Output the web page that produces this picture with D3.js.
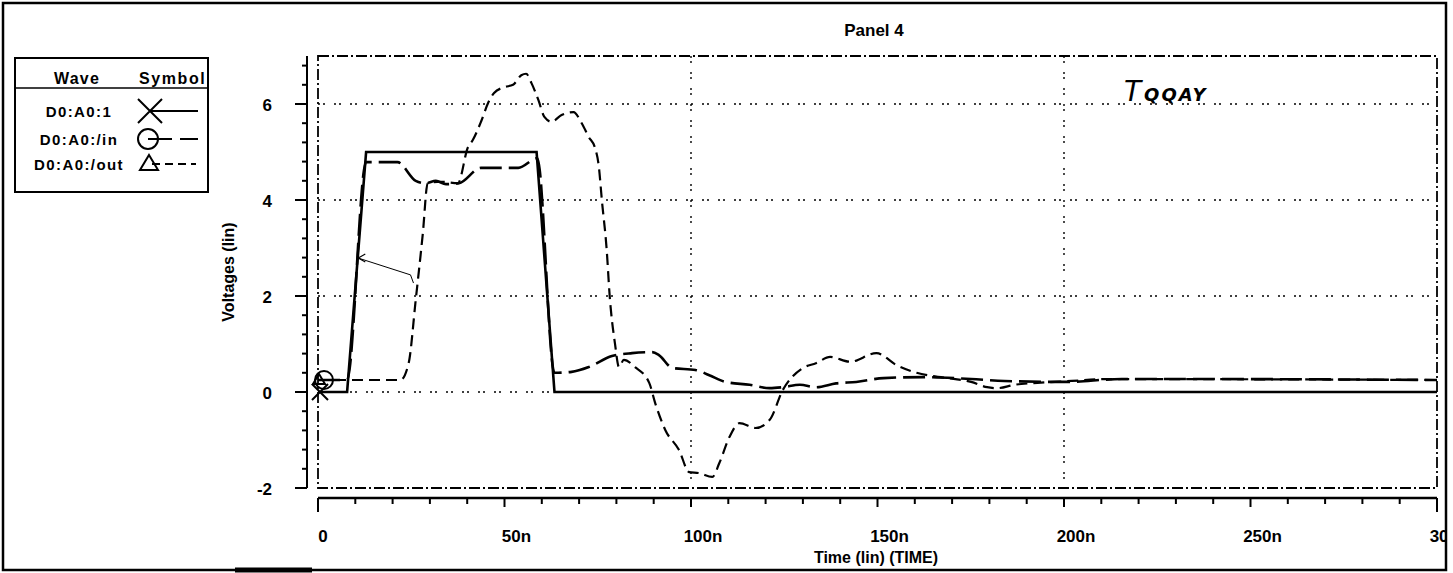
<!DOCTYPE html>
<html>
<head>
<meta charset="utf-8">
<script src="https://cdn.jsdelivr.net/npm/d3@7"></script>
<style>
  body { margin: 0; background: #fff; }
  svg { display: block; font-family: "Liberation Sans", Arial, sans-serif; }
  .lbl { font-weight: bold; fill: #000; }
</style>
</head>
<body>
<svg width="1453" height="573"></svg>
<script>
"use strict";

// waveforms, time in ns, voltage in V
var timeWave1 = [0, 7.8, 12.9, 58.6, 63.4, 300];
var voltWave1 = [0, 0, 5, 5, 0, 0];

var timeIn = [0, 7.8, 12.9, 21.3, 26.2, 28.9, 31.6, 34.3, 37.8, 43.7, 53.7, 58.8, 63.4, 68.0, 72.6,
  78.8, 84.2, 89.6, 91.4, 95.0, 101.2, 104.9, 109.3, 115.7, 121.1, 124.6, 129.2, 133.5, 138.9,
  144.3, 151.6, 162.4, 175.1, 184.0, 200.2, 215.5, 236.0, 300];
var voltIn = [0.25, 0.25, 4.79, 4.79, 4.4, 4.35, 4.4, 4.33, 4.35, 4.67, 4.67, 4.87, 0.4, 0.42, 0.52,
  0.75, 0.81, 0.83, 0.77, 0.5, 0.46, 0.35, 0.21, 0.15, 0.08, 0.1, 0.15, 0.1, 0.18,
  0.21, 0.29, 0.31, 0.27, 0.23, 0.21, 0.27, 0.27, 0.25];

var timeOut = [0, 22.1, 24.3, 26.2, 28.1, 29.4, 32.9, 37.5, 40.2, 41.5, 43.7, 45.6, 47.2, 49.9, 52.3,
  54.5, 55.8, 57.2, 59.1, 60.7, 62.6, 65.3, 68.5, 70.7, 72.6, 74.2, 75.3, 76.1, 77.4, 78.2, 79.6,
  80.7, 82.0, 85.0, 88.8, 90.4, 93.1, 96.8, 99.5, 102.2, 105.7, 107.6, 110.3, 113.0, 117.3, 121.1,
  124.6, 130.0, 133.5, 137.3, 142.7, 149.7, 155.1, 160.5, 167.0, 175.1, 179.4, 182.1, 186.7, 192.9,
  202.1, 211.0, 300];
var voltOut = [0.25, 0.25, 0.6, 1.92, 3.3, 4.35, 4.38, 4.35, 5.1, 5.25, 5.63, 6.02, 6.23, 6.35, 6.4,
  6.6, 6.63, 6.44, 6.08, 5.73, 5.63, 5.77, 5.83, 5.6, 5.31, 5.1, 4.69, 4.0, 2.96, 2.0, 1.02,
  0.52, 0.67, 0.52, 0.19, -0.23, -0.79, -1.21, -1.67, -1.69, -1.77, -1.48, -0.94, -0.65, -0.75, -0.58,
  0.04, 0.5, 0.6, 0.73, 0.63, 0.81, 0.56, 0.4, 0.31, 0.21, 0.1, 0.08, 0.15, 0.19,
  0.23, 0.27, 0.25];

// pencil mark on the rising edge
var noteTime = [10.8, 24.8, 25.6];
var noteVolt = [2.79, 2.44, 2.27];

var xMajor = [0, 50, 100, 150, 200, 250, 300];
var xLabels = ["0", "50n", "100n", "150n", "200n", "250n", "300n"];
var xGrid = [100, 200];
var yMajor = [-2, 0, 2, 4, 6];
var yGrid = [0, 2, 4, 6];
var waveNames = ["D0:A0:1", "D0:A0:/in", "D0:A0:/out"];

var svg = d3.select("svg");

var x = d3.scaleLinear().domain([0, 300]).range([318, 1437]);
var y = d3.scaleLinear().domain([-2, 7]).range([488, 56]);

var frameDash = "11,3,2,3";
var gridDash = "2,3,2,9";
var frameW = 1443;

// outer frame
svg.append("rect").attr("x", 3).attr("y", 3).attr("width", frameW).attr("height", 567)
  .attr("fill", "none").attr("stroke", "#000").attr("stroke-width", 2.5);
svg.append("line").attr("x1", 235).attr("x2", 312).attr("y1", 570).attr("y2", 570)
  .attr("stroke", "#000").attr("stroke-width", 5);

svg.append("text").attr("class", "lbl").attr("x", 874).attr("y", 36)
  .attr("text-anchor", "middle").attr("font-size", 17).text("Panel 4");

// grid
var grid = svg.append("g").attr("stroke", "#000").attr("stroke-width", 1.4).attr("stroke-dasharray", gridDash);
grid.selectAll(".gy").data(yGrid).enter().append("line")
  .attr("x1", x(0)).attr("x2", x(300))
  .attr("y1", function (d) { return y(d); }).attr("y2", function (d) { return y(d); });
grid.selectAll(".gx").data(xGrid).enter().append("line")
  .attr("y1", y(7)).attr("y2", y(-2))
  .attr("x1", function (d) { return x(d); }).attr("x2", function (d) { return x(d); });

// plot border, dash-dot
svg.append("rect").attr("x", x(0)).attr("y", y(7)).attr("width", x(300) - x(0)).attr("height", y(-2) - y(7))
  .attr("fill", "none").attr("stroke", "#000").attr("stroke-width", 1.8).attr("stroke-dasharray", frameDash);

// y axis
var yTicks = d3.range(-2, 7, 0.4);
var yAxis = svg.append("g").attr("transform", "translate(307,0)");
yAxis.append("line").attr("y1", y(7)).attr("y2", y(-2)).attr("stroke", "#000").attr("stroke-width", 2);
yAxis.selectAll(".t").data(yTicks).enter().append("line")
  .attr("x1", function (d) { return Math.abs(d - Math.round(d / 2) * 2) < 0.01 ? -12 : -5; })
  .attr("x2", 0)
  .attr("y1", function (d) { return y(d); }).attr("y2", function (d) { return y(d); })
  .attr("stroke", "#000").attr("stroke-width", 2);
yAxis.selectAll(".l").data(yMajor).enter().append("text").attr("class", "lbl")
  .attr("x", -35).attr("y", function (d) { return y(d) + 7; })
  .attr("text-anchor", "end").attr("font-size", 17)
  .text(function (d) { return d; });
svg.append("text").attr("class", "lbl").attr("font-size", 16)
  .attr("transform", "translate(234,272) rotate(-90)").attr("text-anchor", "middle")
  .text("Voltages (lin)");

// x axis
var xAxisY = 498;
var xTicks = d3.range(0, 301, 10);
var xAxis = svg.append("g").attr("transform", "translate(0," + xAxisY + ")");
xAxis.append("line").attr("x1", x(0)).attr("x2", x(300)).attr("stroke", "#000").attr("stroke-width", 2.5);
xAxis.selectAll(".t").data(xTicks).enter().append("line")
  .attr("x1", function (d) { return x(d); }).attr("x2", function (d) { return x(d); })
  .attr("y1", 0)
  .attr("y2", function (d) { return (d === 0 || d === 300) ? 14 : (d % 50 === 0 ? 9 : 6); })
  .attr("stroke", "#000").attr("stroke-width", 2);
svg.append("clipPath").attr("id", "frameClip").append("rect")
  .attr("x", 3).attr("y", 3).attr("width", frameW).attr("height", 567);
xAxis.append("g").attr("clip-path", "url(#frameClip)").attr("transform", "translate(0,-" + xAxisY + ")")
  .selectAll("text").data(xMajor).enter().append("text").attr("class", "lbl")
  .attr("x", function (d) { return x(d) + (d === 0 ? 5 : 12); }).attr("y", xAxisY + 44)
  .attr("text-anchor", "middle").attr("font-size", 17)
  .text(function (d, i) { return xLabels[i]; });
svg.append("text").attr("class", "lbl").attr("x", 876).attr("y", 563)
  .attr("text-anchor", "middle").attr("font-size", 16).text("Time (lin) (TIME)");

// waveforms
function pts(t, v) {
  return t.map(function (d, i) { return [d, v[i]]; });
}
var line = d3.line().x(function (d) { return x(d[0]); }).y(function (d) { return y(d[1]); });
var smooth = d3.line().curve(d3.curveMonotoneX)
  .x(function (d) { return x(d[0]); }).y(function (d) { return y(d[1]); });

var curves = svg.append("g").attr("fill", "none").attr("stroke", "#000");
curves.append("path").attr("d", line(pts(timeWave1, voltWave1))).attr("stroke-width", 2.6);
curves.append("path").attr("d", smooth(pts(timeIn, voltIn))).attr("stroke-width", 2.6)
  .attr("stroke-dasharray", "22,7");
curves.append("path").attr("d", smooth(pts(timeOut, voltOut))).attr("stroke-width", 2.2)
  .attr("stroke-dasharray", "11,6");
curves.append("path").attr("d", line(pts(noteTime, noteVolt))).attr("stroke-width", 1);
curves.append("path").attr("stroke-width", 1.2)
  .attr("d", "M" + (x(noteTime[0]) + 7) + "," + (y(noteVolt[0]) - 4) + "L" + x(noteTime[0]) + "," + y(noteVolt[0]) +
    "L" + (x(noteTime[0]) + 7) + "," + (y(noteVolt[0]) + 4));

// start markers
var mk = svg.append("g").attr("fill", "none").attr("stroke", "#000").attr("stroke-width", 2);
mk.append("circle").attr("cx", x(0) + 6).attr("cy", y(voltIn[0])).attr("r", 9);
mk.append("path").attr("d", "M" + (x(0) + 1) + "," + (y(voltOut[0]) - 6) + "l6,10h-12z");
mk.append("path").attr("d", "M" + (x(0) - 6) + "," + (y(0) - 8) + "l16,16M" + (x(0) - 6) + "," + (y(0) + 8) + "l16,-16");

// handwritten note
svg.append("text").attr("x", 1124).attr("y", 101).attr("font-style", "italic")
  .attr("font-family", "'DejaVu Sans', sans-serif").attr("font-size", 28).attr("fill", "#000")
  .text("T")
  .append("tspan").attr("font-size", 18).attr("font-weight", "bold").attr("dx", 3)
  .attr("letter-spacing", 2).text("QQAY");

// legend
var leg = svg.append("g");
leg.append("clipPath").attr("id", "legClip").append("rect")
  .attr("x", 15).attr("y", 58).attr("width", 193).attr("height", 134);
leg.append("rect").attr("x", 15).attr("y", 58).attr("width", 193).attr("height", 134)
  .attr("fill", "#fff").attr("stroke", "#000").attr("stroke-width", 2);
leg.append("line").attr("x1", 15).attr("x2", 208).attr("y1", 88).attr("y2", 88)
  .attr("stroke", "#000").attr("stroke-width", 1.5);
var head = leg.append("g").attr("clip-path", "url(#legClip)");
head.append("text").attr("class", "lbl").attr("x", 77).attr("y", 84).attr("text-anchor", "middle")
  .attr("font-size", 16).attr("letter-spacing", 1.2).text("Wave");
head.append("text").attr("class", "lbl").attr("x", 139).attr("y", 84).attr("font-size", 16)
  .attr("letter-spacing", 1.6).text("Symbol");

var rowY = [111, 139, 164];
leg.selectAll(".name").data(waveNames).enter().append("text").attr("class", "lbl")
  .attr("x", 79).attr("y", function (d, i) { return rowY[i] + 6; })
  .attr("text-anchor", "middle").attr("font-size", 15)
  .attr("letter-spacing", 1.4)
  .text(function (d) { return d; });

var sym = leg.append("g").attr("fill", "none").attr("stroke", "#000").attr("stroke-width", 2);
sym.append("path").attr("d", "M138," + (rowY[0] - 12) + "l24,24M138," + (rowY[0] + 12) + "l24,-24");
sym.append("line").attr("x1", 150).attr("x2", 198).attr("y1", rowY[0]).attr("y2", rowY[0]);
sym.append("circle").attr("cx", 148).attr("cy", rowY[1]).attr("r", 10);
sym.append("line").attr("x1", 148).attr("x2", 198).attr("y1", rowY[1]).attr("y2", rowY[1])
  .attr("stroke-dasharray", "24,8");
sym.append("path").attr("d", "M149," + (rowY[2] - 9) + "l9,15h-18z");
sym.append("line").attr("x1", 152).attr("x2", 196).attr("y1", rowY[2]).attr("y2", rowY[2])
  .attr("stroke-dasharray", "8,5");
</script>
</body>
</html>
